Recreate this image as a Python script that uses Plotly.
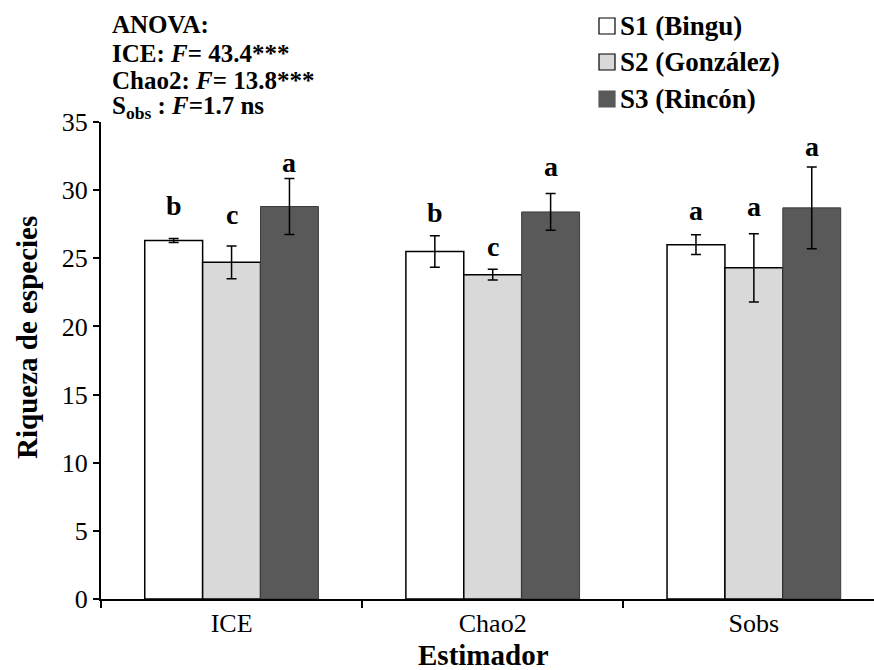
import plotly.graph_objects as go

# Estimators on the x axis and the three sites
estimators = ["ICE", "Chao2", "Sobs"]
sites = ["S1 (Bingu)", "S2 (González)", "S3 (Rincón)"]

# Mean species richness per site (one list per site, ordered as estimators)
s1_mean = [26.3, 25.5, 26.0]
s2_mean = [24.7, 23.8, 24.3]
s3_mean = [28.8, 28.4, 28.7]

# Error bar half-lengths
s1_err = [0.15, 1.15, 0.73]
s2_err = [1.2, 0.4, 2.5]
s3_err = [2.05, 1.35, 3.0]

# Post-hoc grouping letters and the height (data units) where each sits
s1_letters = ["b", "b", "a"]
s2_letters = ["c", "c", "a"]
s3_letters = ["a", "a", "a"]
s1_letter_y = [28.1, 27.6, 27.7]
s2_letter_y = [27.45, 25.1, 28.0]
s3_letter_y = [31.25, 30.95, 32.4]

anova_lines = [
    "<b>ANOVA:</b>",
    "<b>ICE: <i>F</i>= 43.4***</b>",
    "<b>Chao2: <i>F</i>= 13.8***</b>",
    "<b>S<sub>obs</sub> : <i>F</i>=1.7 ns</b>",
]

fills = ["#ffffff", "#d9d9d9", "#595959"]
edges = ["#000000", "#000000", "#3c3c3c"]
edge_w = [1.5, 1.5, 1.0]

W, H = 874, 670
L, R, T, B = 101, 874, 122, 599
FONT = "Liberation Serif"


def px(xp):
    return (xp - L) / (R - L)


def py(yp):
    return (B - yp) / (B - T)


means = [s1_mean, s2_mean, s3_mean]
errs = [s1_err, s2_err, s3_err]
letters = [s1_letters, s2_letters, s3_letters]
letter_y = [s1_letter_y, s2_letter_y, s3_letter_y]

fig = go.Figure()
for i, site in enumerate(sites):
    fig.add_trace(go.Bar(
        x=estimators, y=means[i], name=site,
        marker=dict(color=fills[i], line=dict(color=edges[i], width=edge_w[i])),
        error_y=dict(type="data", array=errs[i], visible=True,
                     color="black", thickness=1.5, width=5),
        showlegend=False,
    ))

annotations = []
# letters above each bar
bar_px = (R - L) / 2.96 * 0.665 / 3
for i in range(3):
    for j, est in enumerate(estimators):
        annotations.append(dict(
            x=est, y=letter_y[i][j], xref="x", yref="y",
            text="<b>%s</b>" % letters[i][j], showarrow=False,
            xshift=(i - 1) * bar_px, yshift=-7, yanchor="bottom",
            font=dict(family=FONT, size=28, color="black"),
        ))

# ANOVA summary block
for k, (line, yc) in enumerate(zip(anova_lines, [25, 53, 81, 107])):
    annotations.append(dict(
        x=px(110), y=py(yc), xref="paper", yref="paper",
        xanchor="left", yanchor="middle", text=line, showarrow=False,
        font=dict(family=FONT, size=25, color="black"),
    ))

# legend drawn as boxes plus labels
shapes = []
for i, (site, yc) in enumerate(zip(sites, [26, 62, 99])):
    shapes.append(dict(
        type="rect", xref="paper", yref="paper",
        x0=px(599), x1=px(615), y0=py(yc + 8), y1=py(yc - 8),
        fillcolor=fills[i], line=dict(color=edges[i] if i < 2 else fills[i], width=1.2),
    ))
    annotations.append(dict(
        x=px(618), y=py(yc), xref="paper", yref="paper",
        xanchor="left", yanchor="middle", text="<b>%s</b>" % site,
        showarrow=False, font=dict(family=FONT, size=27, color="black"),
    ))

# axis titles
annotations.append(dict(
    x=px(483), y=py(655), xref="paper", yref="paper",
    text="<b>Estimador</b>", showarrow=False, xanchor="center", yanchor="middle",
    font=dict(family=FONT, size=29, color="black"),
))
annotations.append(dict(
    x=px(27), y=py(338), xref="paper", yref="paper",
    text="<b>Riqueza de especies</b>", showarrow=False, textangle=-90,
    xanchor="center", yanchor="middle",
    font=dict(family=FONT, size=29, color="black"),
))

fig.update_layout(
    width=W, height=H,
    margin=dict(l=L, r=W - R, t=T, b=H - B, pad=0),
    paper_bgcolor="white", plot_bgcolor="white",
    barmode="group", bargap=0.335, bargroupgap=0,
    font=dict(family=FONT, size=20, color="black"),
    annotations=annotations, shapes=shapes,
    xaxis=dict(
        type="category", range=[-0.5, 2.46], tickson="boundaries",
        ticks="outside", ticklen=7, tickwidth=2, tickcolor="black",
        showline=True, linecolor="black", linewidth=2, showgrid=False,
        tickfont=dict(family=FONT, size=26),
    ),
    yaxis=dict(
        range=[0, 35], dtick=5, ticks="outside", ticklen=6, tickwidth=2,
        tickcolor="black", showline=True, linecolor="black", linewidth=2,
        showgrid=False, zeroline=False, tickfont=dict(family=FONT, size=26),
    ),
)

fig.write_html("out.html")
